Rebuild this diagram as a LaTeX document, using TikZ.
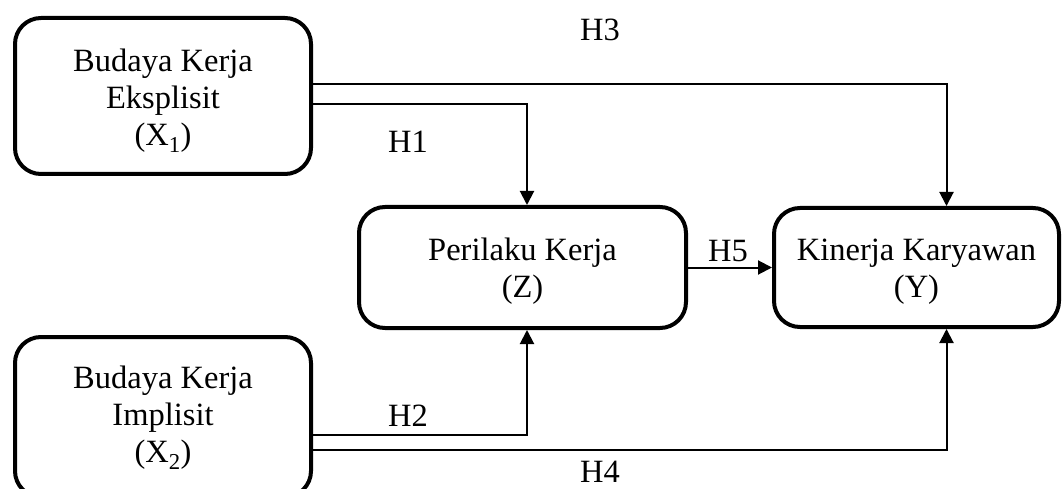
\documentclass[tikz,border=0pt]{standalone}
\usepackage{fontspec}
\setmainfont{Liberation Serif}
\usetikzlibrary{arrows.meta}
\begin{document}
\begin{tikzpicture}[x=1pt,y=-1pt,
  box/.style={draw,line width=4pt,rounded corners=26pt,inner sep=0pt},
  txt/.style={align=center,inner sep=0pt,font=\fontsize{32.5}{37}\selectfont},
  arr/.style={line width=2pt,-{Triangle[length=14pt,width=14pt]}},
  lbl/.style={font=\fontsize{32.5}{37}\selectfont,inner sep=0pt}]
\useasboundingbox (0,0) rectangle (1063,489);
\node[box,minimum width=296pt,minimum height=156pt] (X1) at (163,96) {};
\node[box,minimum width=296pt,minimum height=160pt] (X2) at (163,417) {};
\node[box,minimum width=327pt,minimum height=121pt] (Z) at (522.5,267.5) {};
\node[box,minimum width=285pt,minimum height=119pt] (Y) at (916.5,267.5) {};
\node[txt] (X1t) at ([yshift=-5pt]X1.center) {Budaya Kerja\\Eksplisit\\(X\textsubscript{1})};
\node[txt] (X2t) at ([yshift=-1pt]X2.center) {Budaya Kerja\\Implisit\\(X\textsubscript{2})};
\node[txt] (Zt) at ([yshift=-4pt]Z.center) {Perilaku Kerja\\(Z)};
\node[txt] (Yt) at ([yshift=-4pt]Y.center) {Kinerja Karyawan\\(Y)};
\draw[arr] ([yshift=12pt]X1.east) -| ([xshift=30pt]Y.north);
\draw[arr] ([yshift=-8pt]X1.east) -| ([xshift=4.5pt]Z.north);
\draw[arr] ([yshift=-18pt]X2.east) -| ([xshift=4.5pt]Z.south);
\draw[arr] ([yshift=-33pt]X2.east) -| ([xshift=30pt]Y.south);
\draw[arr] (Z.east) -- (Y.west);
\node[lbl] (h3) at (600,30) {H3};
\node[lbl] (h1) at (408,142) {H1};
\node[lbl] (h2) at (408,416) {H2};
\node[lbl] (h4) at (600,472) {H4};
\node[lbl] (h5) at (728,251) {H5};
\end{tikzpicture}
\end{document}
